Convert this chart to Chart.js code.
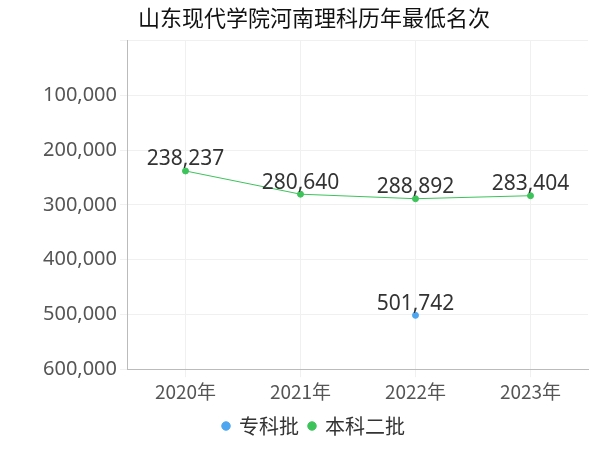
<!DOCTYPE html>
<html><head><meta charset="utf-8">
<script src="https://cdn.jsdelivr.net/npm/chart.js@4"></script>
<style>body{margin:0}#w{width:600px;height:450px}</style></head>
<body><div id="w"><canvas id="c"></canvas></div>
<script>
const categories=['2020年','2021年','2022年','2023年'];
const zhuanke=[null,null,501742,null];
const benke2=[238237,280640,288892,283404];
const fmt=v=>v.toLocaleString('en-US');
const labelPlugin={id:'lbl',afterDatasetsDraw(ch){const c=ch.ctx;c.save();c.font='21px "Noto Sans", sans-serif';c.fillStyle='#333';c.textAlign='center';c.textBaseline='bottom';
ch.data.datasets.forEach((ds,i)=>{ch.getDatasetMeta(i).data.forEach((p,j)=>{const v=ds.data[j];if(v==null)return;c.fillText(fmt(v),p.x,p.y-1);});});c.restore();}};
new Chart(document.getElementById('c'),{type:'line',
data:{labels:categories,datasets:[
{label:'专科批',data:zhuanke,borderColor:'#4da6f0',backgroundColor:'#4da6f0',pointRadius:3,borderWidth:1},
{label:'本科二批',data:benke2,borderColor:'#3cc35a',backgroundColor:'#3cc35a',pointRadius:3,borderWidth:1}]},
options:{responsive:true,maintainAspectRatio:false,animation:false,
layout:{padding:{left:40,right:12,top:0,bottom:4}},
plugins:{title:{display:true,text:'山东现代学院河南理科历年最低名次',color:'#111',font:{size:22,family:'"Noto Sans CJK SC"',weight:'normal'},padding:{top:4,bottom:10}},
legend:{position:'bottom',labels:{usePointStyle:true,pointStyle:'circle',boxWidth:6,boxHeight:6,color:'#333',font:{size:20,family:'"Noto Sans CJK SC"'}}}},
scales:{y:{reverse:true,min:0,max:600000,ticks:{stepSize:100000,color:'#555',font:{size:20,family:'"Noto Sans"'},callback:v=>v===0?'':fmt(v)},grid:{color:'#f0f0f0'},border:{color:'#bbb'}},
x:{offset:true,ticks:{color:'#555',font:{size:19,family:'"Noto Sans CJK SC"'}},grid:{color:'#f0f0f0'},border:{color:'#bbb'}}}},
plugins:[labelPlugin]});
</script></body></html>
